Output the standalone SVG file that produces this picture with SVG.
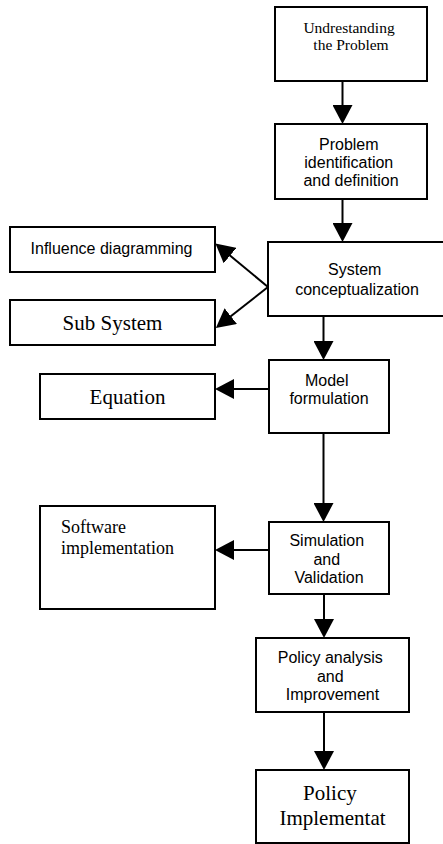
<svg xmlns="http://www.w3.org/2000/svg" width="443" height="844" viewBox="0 0 443 844">
  <style>
    .box { fill: #ffffff; stroke: #000000; stroke-width: 2; }
    .sans { font-family: "Liberation Sans", Arial, sans-serif; font-size: 16px; fill: #000000; }
    .serif { font-family: "Liberation Serif", "Times New Roman", serif; fill: #000000; }
    .link { fill: none; stroke: #000000; stroke-width: 2; }
  </style>
  <defs>
    <marker id="head" viewBox="0 0 19 20" refX="15" refY="10" markerWidth="19" markerHeight="20" markerUnits="userSpaceOnUse" orient="auto">
      <path d="M0,0 L19,10 L0,20 Z" fill="#000000"/>
    </marker>
  </defs>
  <rect width="443" height="844" fill="#ffffff"/>

  <g id="connectors">
    <line class="link" x1="342.5" y1="81" x2="342.5" y2="120" marker-end="url(#head)"/>
    <line class="link" x1="342.5" y1="199" x2="342.5" y2="238" marker-end="url(#head)"/>
    <line class="link" x1="268" y1="287" x2="218.5" y2="246" marker-end="url(#head)"/>
    <line class="link" x1="268" y1="287" x2="219" y2="325.5" marker-end="url(#head)"/>
    <line class="link" x1="323.5" y1="316" x2="323.5" y2="356" marker-end="url(#head)"/>
    <line class="link" x1="269" y1="389" x2="219" y2="389" marker-end="url(#head)"/>
    <line class="link" x1="323.5" y1="433" x2="323.5" y2="518" marker-end="url(#head)"/>
    <line class="link" x1="269" y1="550" x2="219" y2="550" marker-end="url(#head)"/>
    <line class="link" x1="324" y1="594" x2="324" y2="634" marker-end="url(#head)"/>
    <line class="link" x1="324" y1="712" x2="324" y2="766" marker-end="url(#head)"/>
  </g>

  <g id="understanding">
    <rect class="box" x="275" y="7" width="152" height="74"/>
    <text class="serif" font-size="15.5" text-anchor="middle">
      <tspan x="351" y="32.5">Undrestanding</tspan>
      <tspan x="351" y="50">the Problem</tspan>
    </text>
  </g>

  <g id="identification">
    <rect class="box" x="275" y="124" width="152" height="75"/>
    <text class="sans" text-anchor="middle">
      <tspan x="351" y="150">Problem</tspan>
      <tspan x="351" y="168">identification</tspan>
      <tspan x="351" y="186">and definition</tspan>
    </text>
  </g>

  <g id="conceptualization">
    <rect class="box" x="268" y="242" width="177" height="74"/>
    <text class="sans" text-anchor="middle">
      <tspan x="357" y="275">System</tspan>
      <tspan x="357" y="294.5">conceptualization</tspan>
    </text>
  </g>

  <g id="influence">
    <rect class="box" x="10" y="227" width="205" height="45"/>
    <text class="sans" x="111.5" y="253.5" text-anchor="middle">Influence diagramming</text>
  </g>

  <g id="subsystem">
    <rect class="box" x="10" y="300" width="205" height="45"/>
    <text class="serif" font-size="21" x="112.5" y="330" text-anchor="middle">Sub System</text>
  </g>

  <g id="model">
    <rect class="box" x="269" y="360" width="120" height="73"/>
    <text class="sans" text-anchor="middle">
      <tspan x="329" y="385.5">Model</tspan>
      <tspan x="329" y="404">formulation</tspan>
    </text>
  </g>

  <g id="equation">
    <rect class="box" x="40" y="374" width="175" height="45"/>
    <text class="serif" font-size="21" x="127.5" y="404" text-anchor="middle">Equation</text>
  </g>

  <g id="simulation">
    <rect class="box" x="269" y="522" width="120" height="72"/>
    <text class="sans" text-anchor="middle">
      <tspan x="329" y="546">Simulation</tspan>
      <tspan x="329" y="564.5">and</tspan>
      <tspan x="329" y="583">Validation</tspan>
    </text>
  </g>

  <g id="software">
    <rect class="box" x="40" y="506" width="175" height="103"/>
    <text class="serif" font-size="18">
      <tspan x="61" y="533">Software</tspan>
      <tspan x="61" y="554">implementation</tspan>
    </text>
  </g>

  <g id="policy-analysis">
    <rect class="box" x="256" y="638" width="153" height="74"/>
    <text class="sans" text-anchor="middle">
      <tspan x="332.5" y="663">Policy analysis</tspan>
      <tspan x="332.5" y="681.5">and</tspan>
      <tspan x="332.5" y="699.5">Improvement</tspan>
    </text>
  </g>

  <g id="policy-implementation">
    <rect class="box" x="256" y="770" width="153" height="73"/>
    <text class="serif" font-size="21" text-anchor="middle">
      <tspan x="332.5" y="800">Policy</tspan>
      <tspan x="332.5" y="825">Implementat</tspan>
    </text>
  </g>
</svg>
